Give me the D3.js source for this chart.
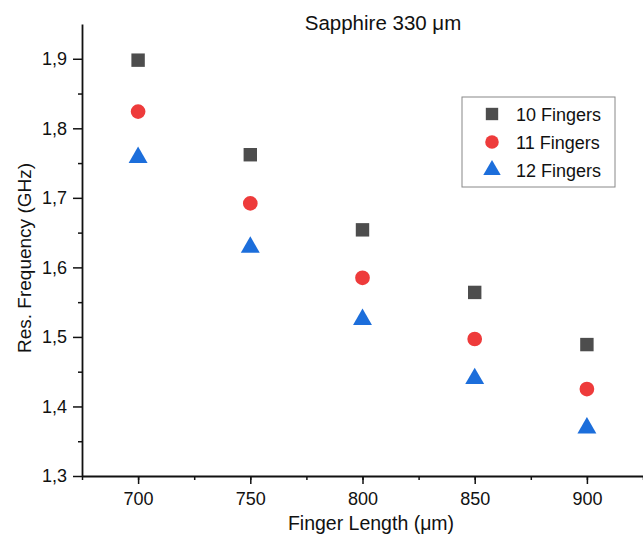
<!DOCTYPE html>
<html>
<head>
<meta charset="utf-8">
<script src="https://cdn.jsdelivr.net/npm/d3@7"></script>
<style>
  body { margin: 0; background: #fff; }
  svg { display: block; font-family: "Liberation Sans", Arial, sans-serif; }
</style>
</head>
<body>
<svg id="chart" width="643" height="536"></svg>
<script>
const fingerLengths = [700, 750, 800, 850, 900];
const fingers10 = [1.898, 1.762, 1.654, 1.564, 1.489];
const fingers11 = [1.824, 1.692, 1.585, 1.497, 1.425];
const fingers12 = [1.758, 1.629, 1.525, 1.440, 1.369];
const seriesNames = ['10 Fingers', '11 Fingers', '12 Fingers'];
const xTicks = [700, 750, 800, 850, 900];
const yTicks = [1.3, 1.4, 1.5, 1.6, 1.7, 1.8, 1.9];

const series = [
  { name: seriesNames[0], values: fingers10, shape: d3.symbolSquare, color: '#4d4d4d', size: 180 },
  { name: seriesNames[1], values: fingers11, shape: d3.symbolCircle, color: '#ee3b3b', size: 170 },
  { name: seriesNames[2], values: fingers12, shape: d3.symbolTriangle, color: '#1c6edb', size: 155 }
];

const svg = d3.select('#chart');

const x = d3.scaleLinear().domain([675, 925]).range([82, 643]);
const y = d3.scaleLinear().domain([1.3, 1.95]).range([476, 24]);

const fmt = d => d3.format('.1f')(d).replace('.', ',');

// minor ticks first so the majors sit on top
svg.append('g')
  .attr('transform', 'translate(0,476)')
  .call(d3.axisBottom(x).tickValues(d3.range(675, 926, 25)).tickSize(4).tickFormat(''))
  .call(g => g.select('.domain').remove());

svg.append('g')
  .attr('transform', 'translate(82,0)')
  .call(d3.axisLeft(y).tickValues(d3.range(1.35, 1.95, 0.1)).tickSize(4).tickFormat(''))
  .call(g => g.select('.domain').remove());

const xAxis = svg.append('g')
  .attr('transform', 'translate(0,476)')
  .call(d3.axisBottom(x).tickValues(xTicks).tickSize(8).tickPadding(8).tickSizeOuter(0));

const yAxis = svg.append('g')
  .attr('transform', 'translate(82,0)')
  .call(d3.axisLeft(y).tickValues(yTicks).tickFormat(fmt).tickSize(9).tickPadding(6).tickSizeOuter(0));

[xAxis, yAxis].forEach(g => {
  g.selectAll('text').attr('font-size', 18).attr('fill', '#111').attr('font-family', '"Liberation Sans", Arial, sans-serif');
  g.select('.domain').attr('stroke', '#111').attr('stroke-width', 1.8);
});
svg.selectAll('g line').attr('stroke', '#111').attr('stroke-width', 1.5);

// markers
series.forEach(s => {
  svg.append('g').selectAll('path')
    .data(fingerLengths.map((f, i) => ({ f, v: s.values[i] })))
    .join('path')
    .attr('d', d3.symbol().type(s.shape).size(s.size))
    .attr('transform', d => `translate(${x(d.f)},${y(d.v)})`)
    .attr('fill', s.color);
});

// title and axis labels
svg.append('text')
  .attr('x', 383).attr('y', 30)
  .attr('text-anchor', 'middle')
  .attr('font-size', 20.5).attr('fill', '#111')
  .text('Sapphire 330 μm');

svg.append('text')
  .attr('x', 371).attr('y', 530)
  .attr('text-anchor', 'middle')
  .attr('font-size', 19.5).attr('fill', '#111')
  .text('Finger Length (μm)');

svg.append('text')
  .attr('transform', 'translate(31,258) rotate(-90)')
  .attr('text-anchor', 'middle')
  .attr('font-size', 19).attr('fill', '#111')
  .text('Res. Frequency (GHz)');

// legend
const legend = svg.append('g').attr('transform', 'translate(462,97)');
legend.append('rect')
  .attr('width', 153).attr('height', 90)
  .attr('fill', '#fff').attr('stroke', '#888').attr('stroke-width', 1);

series.forEach((s, i) => {
  const row = legend.append('g').attr('transform', `translate(0,${17 + i * 28})`);
  row.append('path')
    .attr('d', d3.symbol().type(s.shape).size(s.size * 0.85))
    .attr('transform', 'translate(30,0)')
    .attr('fill', s.color);
  row.append('text')
    .attr('x', 54).attr('y', 6.5)
    .attr('font-size', 18).attr('fill', '#111')
    .text(s.name);
});
</script>
</body>
</html>
